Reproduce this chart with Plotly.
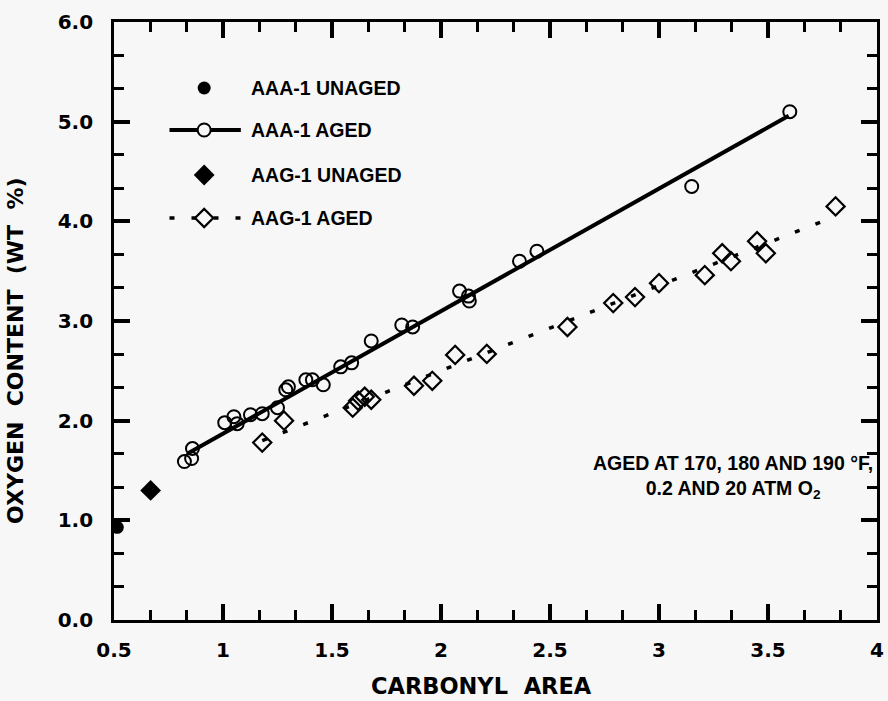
import plotly.graph_objects as go

# ---------------- data ----------------
aaa_unaged_x = [0.515]
aaa_unaged_y = [0.93]

aag_unaged_x = [0.668]
aag_unaged_y = [1.30]

aaa_aged_x = [0.823, 0.856, 0.86, 1.008, 1.05, 1.065, 1.126, 1.18, 1.25, 1.288, 1.30,
              1.38, 1.41, 1.46, 1.54, 1.59, 1.68, 1.82, 1.87, 2.085, 2.126, 2.13,
              2.36, 2.44, 3.15, 3.60]
aaa_aged_y = [1.59, 1.62, 1.72, 1.98, 2.04, 1.97, 2.06, 2.07, 2.13, 2.31, 2.34,
              2.41, 2.41, 2.36, 2.54, 2.58, 2.80, 2.96, 2.94, 3.30, 3.25, 3.20,
              3.60, 3.70, 4.35, 5.10]

aag_aged_x = [1.18, 1.28, 1.595, 1.62, 1.65, 1.68, 1.876, 1.96, 2.065, 2.21, 2.58,
              2.79, 2.89, 3.00, 3.21, 3.29, 3.33, 3.45, 3.49, 3.81]
aag_aged_y = [1.78, 2.00, 2.13, 2.20, 2.24, 2.21, 2.35, 2.40, 2.66, 2.67, 2.94,
              3.18, 3.24, 3.38, 3.46, 3.68, 3.60, 3.80, 3.68, 4.15]

aaa_fit_x = [0.838, 3.595]
aaa_fit_y = [1.67, 5.06]

aag_fit_x = [1.18, 3.81]
aag_fit_y = [1.80, 4.05]

legend_labels = ["AAA-1 UNAGED", "AAA-1 AGED", "AAG-1 UNAGED", "AAG-1 AGED"]
x_range = [0.5, 4]
y_range = [0, 6]
x_major_step = 0.5
y_major_step = 1.0

# ---------------- layout constants ----------------
BG = "#f7f7f7"
DOT_DASH = "5px,17px"
TXT = "Liberation Sans, Arial"
BOLD = "DejaVu Sans"
PL, PR, PT, PB = 114, 884, 22, 620


def px_x(p):
    """pixel column -> x-axis value (for the hand-drawn legend)"""
    return x_range[0] + (p - PL) * (x_range[1] - x_range[0]) / (PR - PL)


def px_y(p):
    """pixel row -> y-axis value (for the hand-drawn legend)"""
    return y_range[0] + (PB - p) * (y_range[1] - y_range[0]) / (PB - PT)


fig = go.Figure()

fig.add_trace(go.Scatter(x=aaa_fit_x, y=aaa_fit_y, mode="lines",
                         line=dict(color="black", width=4), showlegend=False))
fig.add_trace(go.Scatter(x=aag_fit_x, y=aag_fit_y, mode="lines",
                         line=dict(color="black", width=3.5, dash=DOT_DASH), showlegend=False))
fig.add_trace(go.Scatter(x=aaa_aged_x, y=aaa_aged_y, mode="markers",
                         marker=dict(symbol="circle-open", size=13, color="black",
                                     line=dict(width=2)), showlegend=False))
fig.add_trace(go.Scatter(x=aag_aged_x, y=aag_aged_y, mode="markers",
                         marker=dict(symbol="diamond-open", size=14, color="black",
                                     line=dict(width=2.2)), showlegend=False))
fig.add_trace(go.Scatter(x=aaa_unaged_x, y=aaa_unaged_y, mode="markers",
                         marker=dict(symbol="circle", size=13, color="black"), showlegend=False))
fig.add_trace(go.Scatter(x=aag_unaged_x, y=aag_unaged_y, mode="markers",
                         marker=dict(symbol="diamond", size=16, color="black"), showlegend=False))

# ---------------- hand-drawn legend ----------------
leg_py = [88, 130, 175, 218]
leg_y = [px_y(p) for p in leg_py]
sym_x = px_x(205)
line_x0, line_x1 = px_x(170), px_x(242)
text_x = px_x(250)

fig.add_trace(go.Scatter(x=[sym_x], y=[leg_y[0]], mode="markers", hoverinfo="skip",
                         marker=dict(symbol="circle", size=13, color="black"), showlegend=False))
fig.add_trace(go.Scatter(x=[line_x0, line_x1], y=[leg_y[1], leg_y[1]], hoverinfo="skip",
                         mode="lines", line=dict(color="black", width=4), showlegend=False))
fig.add_trace(go.Scatter(x=[sym_x], y=[leg_y[1]], mode="markers", hoverinfo="skip",
                         marker=dict(symbol="circle", size=13, color=BG,
                                     line=dict(width=2, color="black")), showlegend=False))
fig.add_trace(go.Scatter(x=[sym_x], y=[leg_y[2]], mode="markers", hoverinfo="skip",
                         marker=dict(symbol="diamond", size=16, color="black"), showlegend=False))
fig.add_trace(go.Scatter(x=[line_x0, line_x1], y=[leg_y[3], leg_y[3]], hoverinfo="skip",
                         mode="lines", line=dict(color="black", width=3.5, dash=DOT_DASH),
                         showlegend=False))
fig.add_trace(go.Scatter(x=[sym_x], y=[leg_y[3]], mode="markers", hoverinfo="skip",
                         marker=dict(symbol="diamond", size=14, color=BG,
                                     line=dict(width=2.2, color="black")), showlegend=False))

annotations = []
for lab, yy in zip(legend_labels, leg_y):
    annotations.append(dict(x=text_x, y=yy, xref="x", yref="y", text=lab, showarrow=False,
                            xanchor="left", yanchor="middle",
                            font=dict(family=TXT, size=19.5, color="black", weight="bold")))

annotations.append(dict(x=3.34, y=1.43, xref="x", yref="y",
                        text="AGED AT 170, 180 AND 190 °F,<br>0.2 AND 20 ATM O<sub>2</sub>",
                        showarrow=False, align="center", xanchor="center", yanchor="middle",
                        font=dict(family=TXT, size=19.5, color="black", weight="bold")))

annotations.append(dict(x=0.482, y=0, xref="paper", yref="paper", yshift=-66,
                        text="CARBONYL  AREA", showarrow=False, xanchor="center", yanchor="middle",
                        font=dict(family=BOLD, size=22.5, color="black", weight="bold")))
annotations.append(dict(x=0, y=0.45, xref="paper", yref="paper", xshift=-98,
                        text="OXYGEN  CONTENT  (WT  %)", showarrow=False, textangle=-90,
                        xanchor="center", yanchor="middle",
                        font=dict(family=BOLD, size=22, color="black", weight="bold")))

tickfont = dict(family=BOLD, size=20, color="black", weight="bold")

fig.update_layout(
    width=888, height=701,
    margin=dict(l=PL, r=888 - PR, t=PT, b=701 - PB),
    paper_bgcolor=BG, plot_bgcolor=BG,
    showlegend=False,
    annotations=annotations,
    xaxis=dict(range=x_range, tickmode="linear", tick0=x_range[0], dtick=x_major_step,
               ticks="inside", ticklen=16, tickwidth=3.5, tickcolor="black",
               showline=True, linewidth=3, linecolor="black", mirror="ticks",
               showgrid=False, zeroline=False, tickfont=tickfont, ticklabelstandoff=10,
               minor=dict(tick0=x_range[0], dtick=x_major_step / 3, ticks="inside",
                          ticklen=10, tickwidth=3, tickcolor="black", showgrid=False)),
    yaxis=dict(range=y_range, tickmode="linear", tick0=0, dtick=y_major_step,
               tickformat=".1f", ticksuffix="\u00a0\u00a0",
               ticks="inside", ticklen=16, tickwidth=3.5, tickcolor="black",
               showline=True, linewidth=3, linecolor="black", mirror="ticks",
               showgrid=False, zeroline=False, tickfont=tickfont,
               minor=dict(tick0=0, dtick=y_major_step / 3, ticks="inside",
                          ticklen=10, tickwidth=3, tickcolor="black", showgrid=False)),
)

fig.write_html("out.html")
